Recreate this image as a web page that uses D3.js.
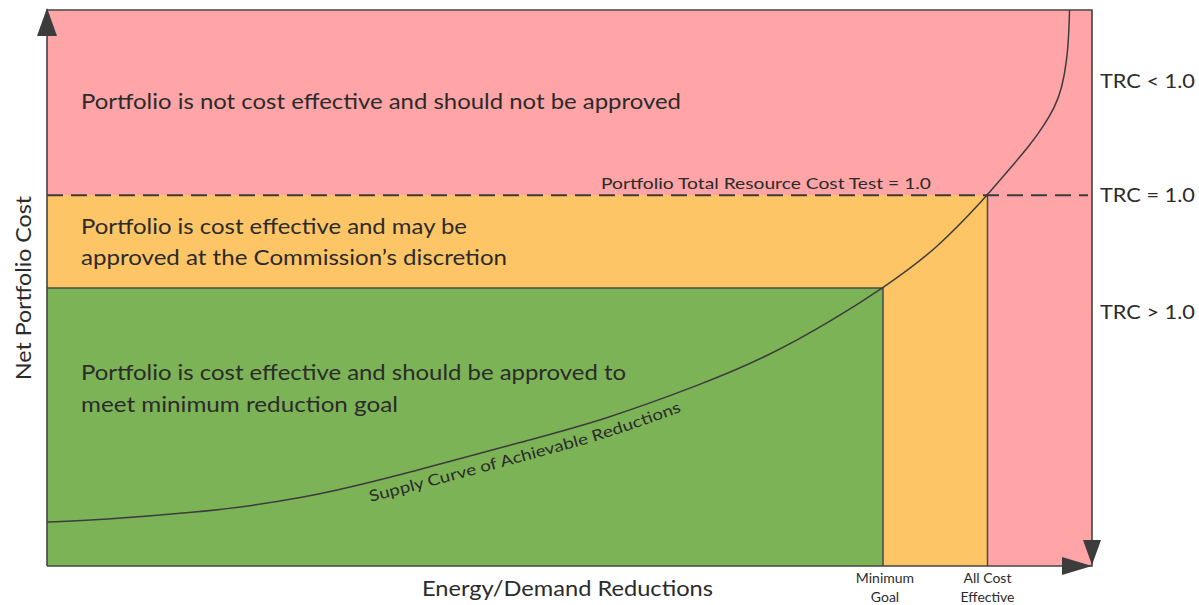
<!DOCTYPE html>
<meta charset="utf-8">
<head>
  <title>Portfolio cost effectiveness</title>
  <script src="https://d3js.org/d3.v7.min.js"></script>
  <style>
    body { margin: 0; background: #fff; font-family: Lato, "Open Sans", sans-serif; }
    text { fill: #2b2b2b; }
    .frame { fill: none; stroke: #444; stroke-width: 1.6; }
    .edge { fill: none; stroke: #4a4a4a; stroke-width: 1.5; }
    .supply { fill: none; stroke: #3c3c3c; stroke-width: 1.5; }
    .trc-line { fill: none; stroke: #3a3a3a; stroke-width: 2; stroke-dasharray: 16 8; }
  </style>
</head>
<body>
<script>
  // supply curve (x = reductions %, y = net cost %)
  var curveX = [0, 5.07, 14.64, 19.43, 24.21, 29.95, 47.18, 52.92, 62.49, 68.9, 75.22, 80, 85.07, 90, 91.2, 92.44, 94.07, 95.31, 96.46, 97.13, 97.61, 97.8, 97.85];
  var curveY = [7.91, 8.27, 9.71, 10.79, 12.23, 14.39, 23.2, 26.08, 32.55, 37.59, 44.24, 50, 56.83, 66.7, 69.42, 72.12, 75.72, 78.96, 82.55, 85.97, 91.01, 96.4, 100];

  // zone boundaries
  var minGoal = 80;          // x of "Minimum Goal"
  var allCostEffective = 90; // x of "All Cost Effective"
  var minGoalCost = 50;      // y where curve meets minimum goal
  var trcLevel = 66.7;       // y of TRC = 1.0

  var zoneColors = ["#ffa4a7", "#fec566", "#7cb356"];
  var trcLabels = ["TRC < 1.0", "TRC = 1.0", "TRC > 1.0"];
  var trcLabelY = [87.2, trcLevel, 45.6];
  var zoneText = [
    ["Portfolio is not cost effective and should not be approved"],
    ["Portfolio is cost effective and may be", "approved at the Commission\u2019s discretion"],
    ["Portfolio is cost effective and should be approved to", "meet minimum reduction goal"]
  ];
  var zoneTextY = [[83.4], [60.9, 55.4], [34.7, 28.9]];
  var zoneTextLen = [[600], [386, 426], [545, 317]];
  var tickLabels = [["Minimum", "Goal"], ["All Cost", "Effective"]];

  var width = 1199, height = 605;
  var x = d3.scaleLinear().domain([0, 100]).range([47, 1092]);
  var y = d3.scaleLinear().domain([0, 100]).range([566, 10]);

  var svg = d3.select("body").append("svg")
    .attr("width", width)
    .attr("height", height);

  svg.append("clipPath").attr("id", "plot")
    .append("rect")
    .attr("x", x(0)).attr("y", y(100))
    .attr("width", x(100) - x(0)).attr("height", y(0) - y(100));

  // zones
  svg.append("rect")
    .attr("x", x(0)).attr("y", y(100))
    .attr("width", x(100) - x(0)).attr("height", y(0) - y(100))
    .style("fill", zoneColors[0]);
  svg.append("rect")
    .attr("x", x(0)).attr("y", y(trcLevel))
    .attr("width", x(allCostEffective) - x(0)).attr("height", y(0) - y(trcLevel))
    .style("fill", zoneColors[1]);
  svg.append("rect")
    .attr("x", x(0)).attr("y", y(minGoalCost))
    .attr("width", x(minGoal) - x(0)).attr("height", y(0) - y(minGoalCost))
    .style("fill", zoneColors[2]);

  // zone edges
  svg.append("path").attr("class", "edge")
    .attr("d", d3.line()([[x(0), y(minGoalCost)], [x(minGoal), y(minGoalCost)], [x(minGoal), y(0)]]));
  svg.append("path").attr("class", "edge")
    .attr("d", d3.line()([[x(allCostEffective), y(trcLevel)], [x(allCostEffective), y(0)]]));

  // TRC = 1.0 dashed line
  svg.append("line").attr("class", "trc-line")
    .attr("x1", x(0)).attr("x2", x(100) - 4)
    .attr("y1", y(trcLevel)).attr("y2", y(trcLevel));

  // supply curve
  var pts = curveX.map(function(d, i) { return [x(d), y(curveY[i])]; });
  var supply = svg.append("path")
    .attr("id", "supply")
    .attr("class", "supply")
    .attr("clip-path", "url(#plot)")
    .attr("d", d3.line().curve(d3.curveBasis)(pts));

  // find where on the curve the label starts
  var node = supply.node();
  var total = node.getTotalLength();
  var start = 0;
  for (var l = 0; l < total; l += 1) {
    if (node.getPointAtLength(l).x >= 366) { start = l; break; }
  }
  svg.append("text")
    .attr("dy", 19)
    .style("font-size", "15.5px")
    .append("textPath")
    .attr("href", "#supply")
    .attr("startOffset", start)
    .attr("textLength", 322)
    .attr("lengthAdjust", "spacingAndGlyphs")
    .text("Supply Curve of Achievable Reductions");

  // frame
  svg.append("path").attr("class", "frame")
    .attr("d", d3.line()([[x(0), y(0)], [x(0), y(100)], [x(100), y(100)], [x(100), y(0)], [x(0), y(0)]]));

  // arrow heads
  var tri = d3.line();
  svg.append("path").style("fill", "#3c3c3c")
    .attr("d", tri([[x(0), y(100) - 2], [x(0) - 10, y(100) + 26], [x(0) + 10, y(100) + 26]]) + "Z");
  svg.append("path").style("fill", "#3c3c3c")
    .attr("d", tri([[x(100), y(0)], [x(100) - 30, y(0) - 9], [x(100) - 30, y(0) + 9]]) + "Z");
  svg.append("path").style("fill", "#3c3c3c")
    .attr("d", tri([[x(100), y(0) - 1], [x(100) - 9, y(0) - 26], [x(100) + 9, y(0) - 26]]) + "Z");

  // zone descriptions
  zoneText.forEach(function(lines, i) {
    lines.forEach(function(t, j) {
      svg.append("text")
        .attr("x", 81)
        .attr("y", y(zoneTextY[i][j]) + 7)
        .attr("textLength", zoneTextLen[i][j])
        .attr("lengthAdjust", "spacingAndGlyphs")
        .style("font-size", "21px")
        .text(t);
    });
  });

  svg.append("text")
    .attr("x", 601)
    .attr("y", y(trcLevel) - 6)
    .attr("textLength", 330)
    .attr("lengthAdjust", "spacingAndGlyphs")
    .style("font-size", "16px")
    .text("Portfolio Total Resource Cost Test = 1.0");

  // TRC labels on the right
  trcLabels.forEach(function(t, i) {
    svg.append("text")
      .attr("x", 1100)
      .attr("y", y(trcLabelY[i]) + 7)
      .attr("textLength", 95)
      .attr("lengthAdjust", "spacingAndGlyphs")
      .style("font-size", "20px")
      .text(t);
  });

  // tick labels on x
  [minGoal, allCostEffective].forEach(function(v, i) {
    tickLabels[i].forEach(function(t, j) {
      svg.append("text")
        .attr("x", x(v) + (i == 0 ? 2 : 0))
        .attr("y", 583 + j * 19)
        .attr("text-anchor", "middle")
        .style("font-size", "14px")
        .text(t);
    });
  });

  // axis titles
  svg.append("text")
    .attr("x", 422)
    .attr("y", 596)
    .attr("textLength", 291)
    .attr("lengthAdjust", "spacingAndGlyphs")
    .style("font-size", "21px")
    .text("Energy/Demand Reductions");

  svg.append("text")
    .attr("transform", "translate(31," + 288 + ") rotate(-90)")
    .attr("text-anchor", "middle")
    .attr("textLength", 184)
    .attr("lengthAdjust", "spacingAndGlyphs")
    .style("font-size", "21px")
    .text("Net Portfolio Cost");
</script>
</body>
